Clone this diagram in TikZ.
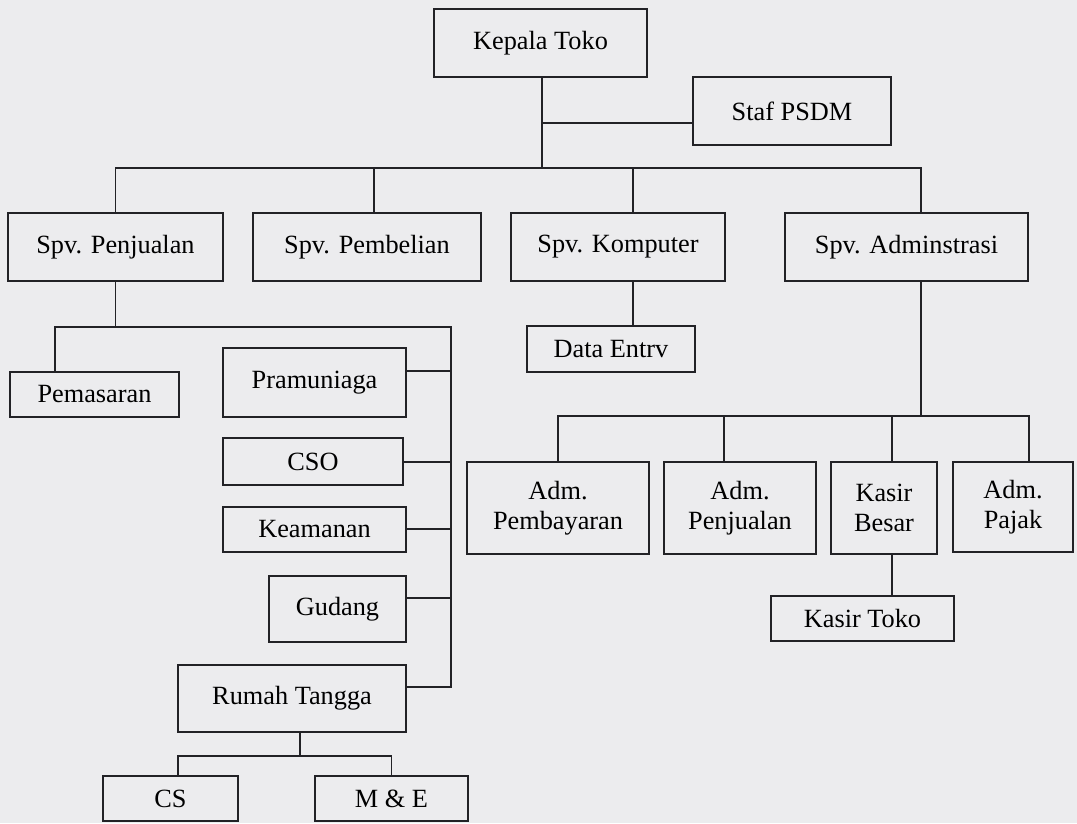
\documentclass[tikz,border=0pt]{standalone}
\usepackage{fontspec}
\setmainfont{Liberation Serif}
\usepackage{tikz}
\definecolor{latar}{RGB}{236,236,238}
\definecolor{tinta}{RGB}{34,34,38}

\begin{document}
\begin{tikzpicture}[x=1pt,y=-1pt,line cap=rect]
	\tikzstyle{kotak}=[draw=tinta,line width=1.3pt,inner sep=0pt,align=center,font=\fontsize{26.3}{30}\selectfont];
	\tikzstyle{garis}=[draw=tinta,line width=1.3pt];

	\fill[latar] (0,0) rectangle (1077,823);

	% pimpinan
	\node[kotak,minimum width=213pt,minimum height=68pt] (kepala) at (540.5,43) {Kepala Toko};
	\node[kotak,minimum width=198pt,minimum height=68pt] (staf) at (792,111) {Staf PSDM};

	% supervisor
	\node[kotak,minimum width=215pt,minimum height=68pt] (spvjual) at (115.5,247) {Spv. Penjualan};
	\node[kotak,minimum width=228pt,minimum height=68pt] (spvbeli) at (367,247) {Spv. Pembelian};
	\node[kotak,minimum width=214pt,minimum height=68pt] (spvkomp) at (618,247) {Spv. Komputer};
	\node[kotak,minimum width=243pt,minimum height=68pt] (spvadm) at (906.5,247) {Spv. Adminstrasi};

	% bagian penjualan
	\node[kotak,minimum width=169pt,minimum height=45pt] (pemasaran) at (94.5,394.5) {Pemasaran};
	\node[kotak,minimum width=183pt,minimum height=69pt] (pramuniaga) at (314.5,382.5) {Pramuniaga};
	\node[kotak,minimum width=180pt,minimum height=47pt] (cso) at (313,461.5) {CSO};
	\node[kotak,minimum width=183pt,minimum height=45pt] (keamanan) at (314.5,529.5) {Keamanan};
	\node[kotak,minimum width=137pt,minimum height=66pt] (gudang) at (337.5,609) {Gudang};
	\node[kotak,minimum width=228pt,minimum height=67pt] (rumah) at (292,698.5) {Rumah Tangga};
	\node[kotak,minimum width=135pt,minimum height=45pt] (cs) at (170.5,798.5) {CS};
	\node[kotak,minimum width=153pt,minimum height=45pt] (mne) at (391.5,798.5) {M \& E};

	% bagian komputer
	\node[kotak,minimum width=168pt,minimum height=46pt] (dataentry) at (611,349) {Data Entrv};

	% bagian administrasi
	\node[kotak,minimum width=182pt,minimum height=92pt] (admbayar) at (558,508) {Adm.\\Pembayaran};
	\node[kotak,minimum width=152pt,minimum height=92pt] (admjual) at (740,508) {Adm.\\Penjualan};
	\node[kotak,minimum width=106pt,minimum height=92pt] (kasirbesar) at (884,508) {Kasir\\Besar};
	\node[kotak,minimum width=120pt,minimum height=90pt] (admpajak) at (1013,507) {Adm.\\Pajak};
	\node[kotak,minimum width=183pt,minimum height=45pt] (kasirtoko) at (862.5,618.5) {Kasir Toko};

	% garis atas
	\coordinate (bus1) at (542,168);
	\coordinate (sp) at (542,123);
	\draw[garis] (kepala.south -| bus1) -- (bus1);
	\draw[garis] (sp) -- (sp -| staf.west);
	\draw[garis] (spvjual.north) |- ([xshift=14.5pt]spvadm.north |- bus1) -- ([xshift=14.5pt]spvadm.north);
	\draw[garis] ([xshift=7pt]spvbeli.north) -- ([xshift=7pt]spvbeli.north |- bus1);
	\draw[garis] ([xshift=15pt]spvkomp.north) -- ([xshift=15pt]spvkomp.north |- bus1);

	% garis komputer
	\draw[garis] ([xshift=15pt]spvkomp.south) -- ([xshift=15pt]spvkomp.south |- dataentry.north);

	% garis penjualan
	\coordinate (sv) at (451,327);
	\draw[garis] (spvjual.south) -- (spvjual.south |- sv);
	\draw[garis] ([xshift=-39.5pt]pemasaran.north) |- (sv) -- ([yshift=11.5pt]rumah.east -| sv);
	\foreach \n/\s in {pramuniaga/11.5,cso/-0.5,keamanan/0.5,gudang/11,rumah/11.5}
		\draw[garis] ([yshift=\s pt]\n.east) -- ([yshift=\s pt]\n.east -| sv);
	\coordinate (rt) at (300,756);
	\draw[garis] ([xshift=8pt]rumah.south) -- (rt);
	\draw[garis] ([xshift=7.5pt]cs.north) |- (mne.north |- rt) -- (mne.north);

	% garis administrasi
	\coordinate (ab) at (921,416);
	\draw[garis] ([xshift=14.5pt]spvadm.south) -- (ab);
	\draw[garis] (admbayar.north) |- ([xshift=16pt]admpajak.north |- ab) -- ([xshift=16pt]admpajak.north);
	\draw[garis] ([xshift=-16pt]admjual.north) -- ([xshift=-16pt]admjual.north |- ab);
	\draw[garis] ([xshift=8pt]kasirbesar.north) -- ([xshift=8pt]kasirbesar.north |- ab);
	\draw[garis] ([xshift=8pt]kasirbesar.south) -- ([xshift=8pt]kasirbesar.south |- kasirtoko.north);
\end{tikzpicture}
\end{document}
